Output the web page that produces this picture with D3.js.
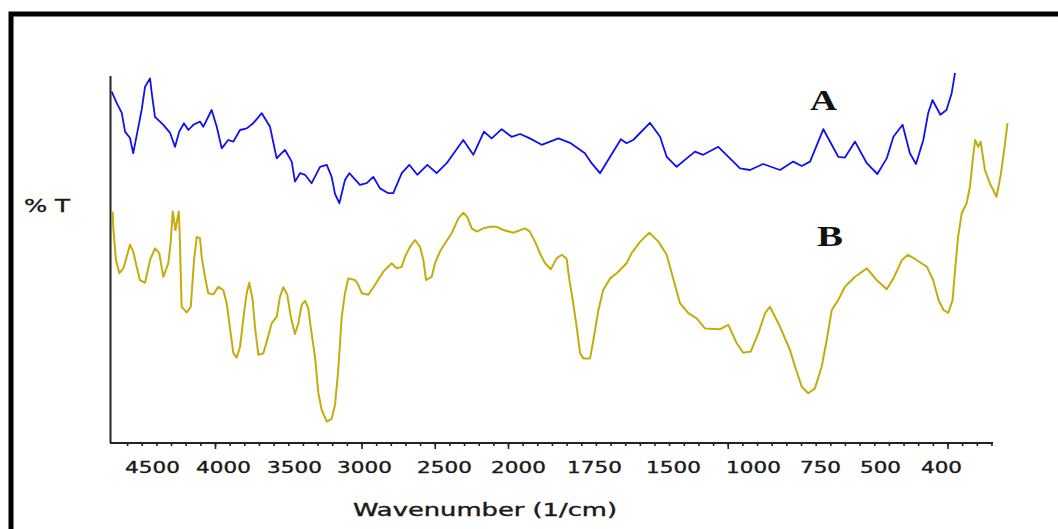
<!DOCTYPE html>
<html>
<head>
<meta charset="utf-8">
<script src="https://cdn.jsdelivr.net/npm/d3@7"></script>
<style>
  html, body { margin: 0; padding: 0; background: #fff; }
  svg { display: block; }
</style>
</head>
<body>
<svg id="chart" width="1058" height="529"></svg>
<script>
// ---- data ----
const tickLabels = [4500, 4000, 3500, 3000, 2500, 2000, 1750, 1500, 1000, 750, 500, 400];

const waveA = [4784,4749,4713,4690,4655,4632,4596,4573,4549,4514,4502,4479,4420,4373,4338,4308,4275,4244,4209,4162,4139,4080,4044,4009,
  3963,3927,3880,3833,3787,3727,3669,3622,3587,3563,3516,3493,3457,3421,3374,3314,3266,3231,3207,3176,3136,3105,3029,
  2983,2942,2900,2848,2817,2764,2717,2667,2604,2546,2482,2370,2302,2230,2178,2110,2043,
  1993,1961,1922,1867,1829,1780,1758,1731,1699,1665,1647,1626,1573,1541,1520,
  1477,1414,1363,1311,1217,1144,1081,1019,962,899,850,818,787,736,674,646,604,555,511,
  489,478,463,451,441,429,421,414,401,391,382.5,377];
const transA = [87.1,84.3,81.8,77.1,75.5,71.7,78.3,82.5,88.3,90.4,86.8,80.8,78.8,76.8,73.3,77.1,79.2,77.5,78.8,79.6,78.3,82.5,78.3,72.9,
  75,74.6,77.5,77.9,79.2,81.7,78.3,70.4,71.7,72.5,69.6,64.6,66.7,66.3,64.2,68.3,68.8,65.8,61.5,59.2,65,66.7,63.8,
  64.2,65.8,62.9,61.7,61.7,66.7,68.8,66.3,68.8,66.7,69.2,75,71.3,77.1,75.4,77.7,75.8,
  76.5,75.4,73.8,75.4,74.3,71.7,69.2,66.7,70.8,75.2,74.2,75,79.3,75.8,70.8,
  68.3,70.4,72.1,71.3,73.3,70.4,67.9,67.5,69,67.5,69.6,68.5,69.6,77.7,70.8,70.6,74.6,69.2,66.5,
  70.4,75.8,78.8,71.7,69,75,81.7,85,81.3,82.5,86.7,91.8];

const waveB = [4777,4773,4754,4730,4702,4678,4655,4632,4608,4585,4549,4514,4479,4449,4420,4385,4368,4354,4335,4312,4306,4291,4256,4227,
  4204,4185,4162,4150,4127,4104,4068,4033,3998,3974,3946,3927,3904,3880,3852,3833,3815,3791,3775,3751,3716,3692,3657,3622,
  3599,3575,3547,3523,3493,3469,3445,3421,3398,3381,3350,3326,3302,3266,3231,3207,3184,3159,3136,3112,3064,3041,3016,
  2973,2931,2879,2827,2796,2764,2744,2712,2681,2650,2629,2612,2577,2556,2525,2493,2448,2403,2370,2343,2313,2279,2234,
  2189,2144,2099,2032,1977,1961,1944,1928,1911,1892,1873,1856,1840,1831,1820,1807,1796,1785,1763,1752,
  1736,1721,1699,1678,1647,1631,1604,1575,1546,1520,1504,1456,1404,1352,1300,1206,1154,1102,1061,1014,
  980,955,937,899,862,843,818,794,769,743,722,701,674,646,604,555,514,
  489,478,464,454,440,423,413,404,396,388,381,377,372,366,358,352.5,348,344,339,335,328,320,309,302,295,291];
const transB = [57.1,53.3,45,41.7,42.9,45.8,48.8,47.1,43.3,40,39.3,45,47.9,46.7,40.8,44.2,49.6,57.1,52.5,57.1,52.5,33.3,31.9,33.3,
  45,50.8,50.4,45.8,40.8,36.7,36.4,38.3,37.5,34.2,26.7,21.7,20.6,23.3,31.7,36.7,39.3,35,28.3,21.3,21.7,24.6,29.2,30.8,
  35.8,38.2,36.3,30.8,26.5,29.2,33.8,34.8,32.9,28.3,20.8,11.7,7.5,4.6,5.3,8.8,17.5,30.8,36.7,40.4,40,38.8,36.7,
  36.3,38.8,42.1,44.2,42.9,43.3,45.8,48.3,50,48.3,45,40,40.8,44.2,47.1,49.2,51.7,55.4,56.8,55.8,52.9,52.1,52.9,
  53.3,53.3,52.5,51.8,52.9,52.1,49.6,46.7,44.2,42.7,45.4,46.3,45.3,40,35,28.3,21.7,20.4,20.4,25,
  32.5,37.5,40.4,41.7,44.2,46.7,49.6,51.8,49.6,46.3,41.7,34.2,31.7,30.4,27.9,27.7,28.8,24.2,21.8,22.1,
  26.7,31.7,33.3,28.3,22.5,18.3,13.3,11.7,12.9,18.3,25,32.5,35,38.3,40.8,42.9,40,
  37.7,40.4,45,46.3,45,43.3,40,35,32.5,31.8,35,42.5,50.8,56.7,59.2,63.3,70,75,73.3,74.6,67.5,64.2,60.8,66.3,74.2,79.2];

const seriesLabels = ["A", "B"];
const xTitle = "Wavenumber (1/cm)";
const yTitle = "% T";

// ---- chart ----
const svg = d3.select("#chart");

// outer frame
svg.append("rect")
  .attr("x", 11).attr("y", 14)
  .attr("width", 1200).attr("height", 700)
  .attr("fill", "none").attr("stroke", "#000").attr("stroke-width", 5);

const x = d3.scaleLinear()
  .domain(tickLabels)
  .range([152, 223, 294, 364, 444, 518, 594, 673, 753, 820, 880, 941]);
const y = d3.scaleLinear().domain([0, 95]).range([440, 60]);

// minor tick scale along the axis
const tickIdx = d3.scaleLinear().domain([0, 60]).range([112.45, 991.45]);

const axisY0 = 443;

// axes lines
svg.append("line")
  .attr("x1", 110.5).attr("x2", 110.5).attr("y1", 76).attr("y2", axisY0)
  .attr("stroke", "#222").attr("stroke-width", 2);
svg.append("line")
  .attr("x1", 110).attr("x2", 993).attr("y1", axisY0).attr("y2", axisY0)
  .attr("stroke", "#222").attr("stroke-width", 2);

// minor ticks
const minorAxis = d3.axisBottom(tickIdx).tickValues(d3.range(1, 61)).tickSize(3).tickFormat("");
const gMinor = svg.append("g").attr("transform", `translate(0,${axisY0})`).call(minorAxis);
gMinor.select(".domain").remove();
gMinor.selectAll("line").attr("stroke", "#222").attr("stroke-width", 1.6);

const majorAxis = d3.axisBottom(tickIdx).tickValues([7, 17, 22, 27, 42, 57]).tickSize(6).tickFormat("");
const gMajor = svg.append("g").attr("transform", `translate(0,${axisY0})`).call(majorAxis);
gMajor.select(".domain").remove();
gMajor.selectAll("line").attr("stroke", "#222").attr("stroke-width", 1.6);

// tick labels
const labAxis = d3.axisBottom(x).tickValues(tickLabels).tickSize(0).tickPadding(0).tickFormat(d3.format("d"));
const gLab = svg.append("g").attr("transform", `translate(0,${axisY0})`).call(labAxis);
gLab.select(".domain").remove();
gLab.selectAll("text")
  .attr("y", 30)
  .attr("dy", null)
  .attr("font-family", "DejaVu Sans, Verdana, sans-serif")
  .attr("font-size", 15)
  .attr("fill", "#1a1a1a")
  .attr("stroke", "#1a1a1a").attr("stroke-width", 0.35)
  .attr("lengthAdjust", "spacingAndGlyphs")
  .attr("textLength", d => String(d).length * 13.7);

// axis titles
svg.append("text")
  .attr("x", 485).attr("y", 516)
  .attr("text-anchor", "middle")
  .attr("font-family", "DejaVu Sans, Verdana, sans-serif")
  .attr("font-size", 18)
  .attr("fill", "#1a1a1a")
  .attr("stroke", "#1a1a1a").attr("stroke-width", 0.4)
  .attr("lengthAdjust", "spacingAndGlyphs")
  .attr("textLength", 264)
  .text(xTitle);

svg.append("text")
  .attr("x", 24).attr("y", 212)
  .attr("font-family", "DejaVu Sans, Verdana, sans-serif")
  .attr("font-size", 18)
  .attr("fill", "#1a1a1a")
  .attr("stroke", "#1a1a1a").attr("stroke-width", 0.4)
  .attr("lengthAdjust", "spacingAndGlyphs")
  .attr("textLength", 46)
  .text(yTitle);

// lines
const line = d3.line().x(d => x(d[0])).y(d => y(d[1]));
const dataA = waveA.map((w, i) => [w, transA[i]]);
const dataB = waveB.map((w, i) => [w, transB[i]]);

svg.append("path").datum(dataA)
  .attr("d", line).attr("fill", "none")
  .attr("stroke", "#1010f0").attr("stroke-width", 1.8).attr("stroke-linejoin", "round");
svg.append("path").datum(dataB)
  .attr("d", line).attr("fill", "none")
  .attr("stroke", "#c4ad0a").attr("stroke-width", 2).attr("stroke-linejoin", "round");

// series labels
svg.selectAll("text.series")
  .data(seriesLabels)
  .enter().append("text")
  .attr("class", "series")
  .attr("x", (d, i) => i === 0 ? 810 : 817)
  .attr("y", (d, i) => i === 0 ? 110 : 246)
  .attr("font-family", "Liberation Serif, Times New Roman, serif")
  .attr("font-weight", "bold")
  .attr("font-size", 29)
  .attr("fill", "#111")
  .attr("lengthAdjust", "spacingAndGlyphs")
  .attr("textLength", (d, i) => i === 0 ? 27 : 26)
  .text(d => d);
</script>
</body>
</html>
